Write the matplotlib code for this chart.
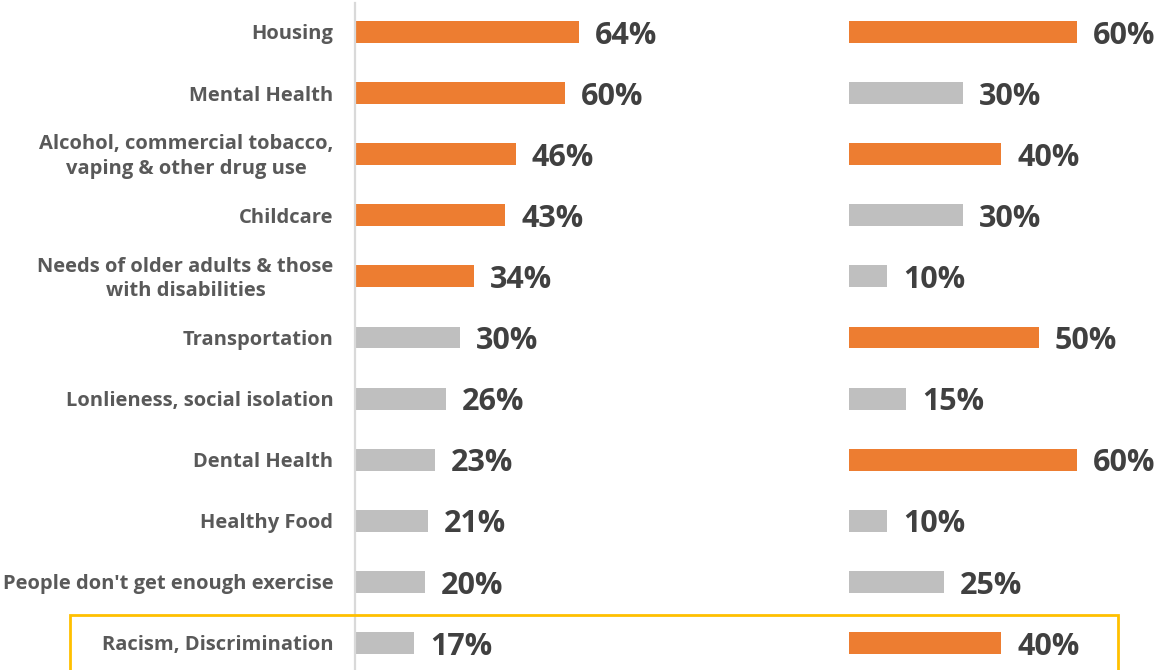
import matplotlib.pyplot as plt
from matplotlib.patches import Rectangle

# survey data
categories = ["Housing", "Mental Health",
              "Alcohol, commercial tobacco,\nvaping & other drug use",
              "Childcare",
              "Needs of older adults & those\nwith disabilities",
              "Transportation", "Lonlieness, social isolation",
              "Dental Health", "Healthy Food",
              "People don't get enough exercise",
              "Racism, Discrimination"]
left_vals = [64, 60, 46, 43, 34, 30, 26, 23, 21, 20, 17]
right_vals = [60, 30, 40, 30, 10, 50, 15, 60, 10, 25, 40]

ORANGE = "#ED7D31"
GRAY = "#BFBFBF"
W, H = 1157, 670

plt.rcParams['font.family'] = ['Open Sans', 'DejaVu Sans']
fig = plt.figure(figsize=(W / 100, H / 100), dpi=100)

row0, step = 32, 61.1
top_px = 3
ytop = (top_px - row0) / step
ybot = (H - row0) / step

def make_ax(x0, xmax, scale):
    width = xmax * scale
    ax = fig.add_axes([x0 / W, 0, width / W, (H - top_px) / H])
    ax.set_xlim(0, xmax)
    ax.set_ylim(ybot, ytop)
    ax.set_xticks([])
    ax.set_yticks([])
    for s in ax.spines.values():
        s.set_visible(False)
    ax.patch.set_alpha(0)
    return ax

axl = make_ax(354.5, 70, 3.5)
axr = make_ax(849, 80, 3.8)

ypos = list(range(len(categories)))
lcol = [ORANGE if i < 5 else GRAY for i in ypos]
rcol = [ORANGE if v >= 40 else GRAY for v in right_vals]

axl.barh(ypos, left_vals, height=0.36, color=lcol)
axr.barh(ypos, right_vals, height=0.36, color=rcol)

axl.spines['left'].set_visible(True)
axl.spines['left'].set_color("#D9D9D9")
axl.spines['left'].set_linewidth(1.6)

for ax, vals, sc in [(axl, left_vals, 3.5), (axr, right_vals, 3.8)]:
    for y, v in zip(ypos, vals):
        ax.text(v + 16 / sc, y + 0.06, f"{v}%", ha='left', va='center',
                fontsize=22, fontweight='bold', color="#404040")

for y, c in zip(ypos, categories):
    axl.text(-21 / 3.5, y + 0.04, c, ha='right', va='center', multialignment='center',
             fontsize=14.5, fontweight='bold', color="#595959", linespacing=1.3)

# highlight box around the last row
box = Rectangle((70 / W, -0.02), (1118 - 70) / W, (H - 615) / H + 0.02,
                transform=fig.transFigure, fill=False, edgecolor="#FFC000",
                linewidth=2, clip_on=False)
fig.add_artist(box)

fig.savefig("out.png", dpi=100)
